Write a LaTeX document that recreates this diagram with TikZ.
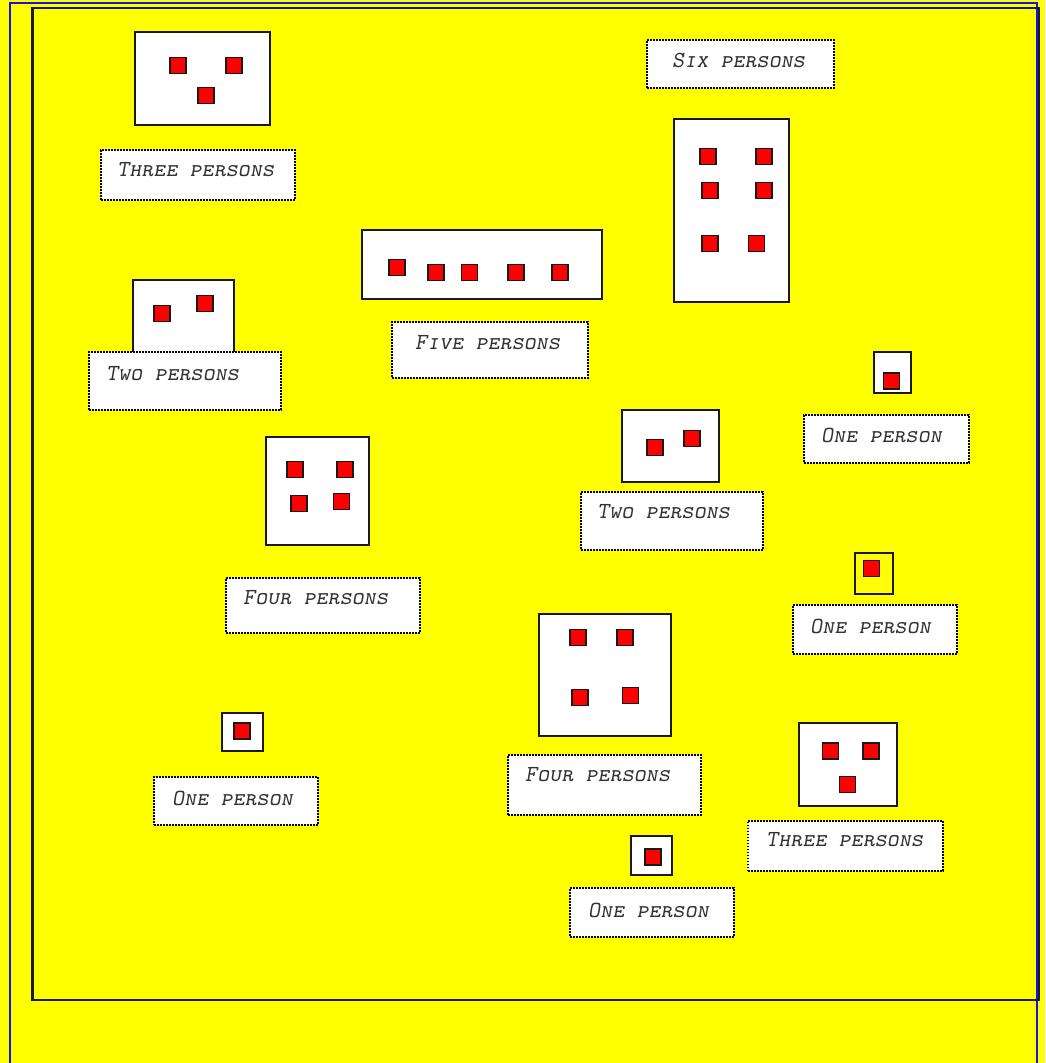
\documentclass[tikz,border=0pt]{standalone}
\usepackage{tikz}
\usetikzlibrary{positioning}

\definecolor{floor}{RGB}{255,255,0}
\definecolor{edge}{RGB}{20,20,230}
\definecolor{seat}{RGB}{255,0,0}

\begin{document}
\begin{tikzpicture}[
    x=1pt, y=-1pt,
    room/.style={draw=black!90, fill=white, line width=2pt, anchor=north west, inner sep=0pt, outer sep=0pt},
    person/.style={draw=black!90, fill=seat, line width=1.8pt, minimum size=16pt, inner sep=0pt},
    tag/.style={draw=black, fill=white, line width=2pt, dash pattern=on 1.6pt off 1.4pt, anchor=north west, inner sep=0pt},
    tagtext/.style={anchor=west, inner sep=0pt, text=black!80, font=\fontsize{23}{26}\selectfont\ttfamily\itshape\scshape},
]
\useasboundingbox (0,0) rectangle (1045,1063);
\fill[floor] (0,0) rectangle (1045,1063);
\draw[edge, line width=2pt] (10,2.5) rectangle (1036.5,1080);
\draw[black!90, line width=2.8pt] (32.5,8) rectangle (1039,1000);

% rooms
\node[room, minimum width=135, minimum height=93]  (roomA) at (135,32)  {};
\node[room, minimum width=115, minimum height=183] (roomB) at (674,119) {};
\node[room, minimum width=240, minimum height=69]  (roomC) at (362,230) {};
\node[room, minimum width=101, minimum height=90]  (roomD) at (133,280) {};
\node[room, minimum width=37,  minimum height=41]  (roomE) at (874,352) {};
\node[room, minimum width=97,  minimum height=72]  (roomF) at (622,410) {};
\node[room, minimum width=103, minimum height=108] (roomG) at (266,437) {};
\node[room, fill=none, minimum width=38, minimum height=41] (roomH) at (855,552.5) {};
\node[room, minimum width=132, minimum height=122] (roomI) at (539,614) {};
\node[room, minimum width=41,  minimum height=39]  (roomJ) at (631,836) {};
\node[room, minimum width=98,  minimum height=83]  (roomK) at (799,723) {};
\node[room, minimum width=41,  minimum height=38]  (roomL) at (222,713) {};

% persons
\foreach \px/\py [count=\i] in {178/65.5, 234/65.5, 206/95.5}
    \node[person] (a\i) at (\px,\py) {};
\foreach \px/\py [count=\i] in {708/156.5, 764/156.5, 710/190.5, 764/190.5, 710/243.5, 756.5/243.5}
    \node[person] (b\i) at (\px,\py) {};
\foreach \px/\py [count=\i] in {397/267.5, 436/272.5, 469.5/272.5, 516/272.5, 560/272.5}
    \node[person] (c\i) at (\px,\py) {};
\foreach \px/\py [count=\i] in {162/313.5, 205/303.5}
    \node[person] (d\i) at (\px,\py) {};
\node[person] (e1) at (891.5,381) {};
\foreach \px/\py [count=\i] in {655/447.5, 692/438.5}
    \node[person] (f\i) at (\px,\py) {};
\foreach \px/\py [count=\i] in {295/469.5, 345/469.5, 299/503.5, 341.5/501.5}
    \node[person] (g\i) at (\px,\py) {};
\node[person] (h1) at (871.5,568.5) {};
\foreach \px/\py [count=\i] in {578/637.5, 625/637.5, 580/697.5, 630.5/695.5}
    \node[person] (i\i) at (\px,\py) {};
\node[person] (j1) at (653,857) {};
\foreach \px/\py [count=\i] in {830.5/751, 871/751, 847.5/784.5}
    \node[person] (k\i) at (\px,\py) {};
\node[person] (l1) at (242,731) {};

% labels
\node[tag, minimum width=194, minimum height=50] (tagA) at (100,149) {};
\node[tagtext] (txtA) at (117,170) {Three persons};
\node[tag, minimum width=187, minimum height=48] (tagB) at (646,39) {};
\node[tagtext] (txtB) at (672,60) {Six persons};
\node[tag, minimum width=196, minimum height=56] (tagC) at (391,321) {};
\node[tagtext] (txtC) at (415,343) {Five persons};
\node[tag, minimum width=192, minimum height=58] (tagD) at (88,351) {};
\node[tagtext] (txtD) at (106,374) {Two persons};
\node[tag, minimum width=165, minimum height=48] (tagE) at (803,414) {};
\node[tagtext] (txtE) at (821,435) {One person};
\node[tag, minimum width=182, minimum height=58] (tagF) at (580,491) {};
\node[tagtext] (txtF) at (597,512) {Two persons};
\node[tag, minimum width=194, minimum height=55] (tagG) at (225,577) {};
\node[tagtext] (txtG) at (243,598) {Four persons};
\node[tag, minimum width=164, minimum height=49] (tagH) at (792,604) {};
\node[tagtext] (txtH) at (810,626) {One person};
\node[tag, minimum width=193, minimum height=60] (tagI) at (507,754) {};
\node[tagtext] (txtI) at (525,775) {Four persons};
\node[tag, minimum width=164, minimum height=49] (tagJ) at (569,887) {};
\node[tagtext] (txtJ) at (588,910) {One person};
\node[tag, minimum width=195, minimum height=50] (tagK) at (747,819.5) {};
\node[tagtext] (txtK) at (766,840) {Three persons};
\node[tag, minimum width=164, minimum height=48] (tagL) at (153,776) {};
\node[tagtext] (txtL) at (172,798) {One person};
\end{tikzpicture}
\end{document}
